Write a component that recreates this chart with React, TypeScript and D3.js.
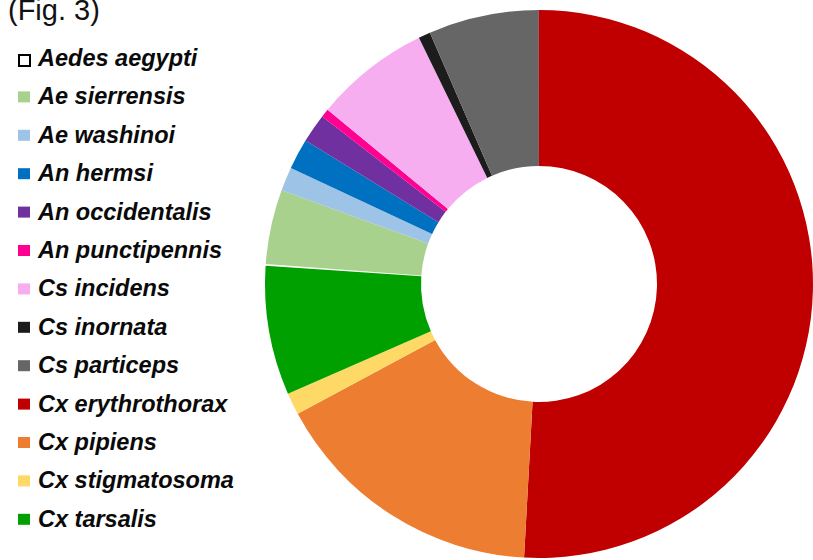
import { arc, pie, PieArcDatum } from 'd3';
import React from 'react';

const species = [
  'Aedes aegypti',
  'Ae sierrensis',
  'Ae washinoi',
  'An hermsi',
  'An occidentalis',
  'An punctipennis',
  'Cs incidens',
  'Cs inornata',
  'Cs particeps',
  'Cx erythrothorax',
  'Cx pipiens',
  'Cx stigmatosoma',
  'Cx tarsalis',
];

// share of collection, percent
const shares = [0.1, 4.4, 1.4, 1.8, 1.7, 0.5, 6.8, 0.7, 6.5, 50.8, 16.25, 1.3, 7.6];

const colors = [
  '#ffffff',
  '#a9d18e',
  '#9dc3e6',
  '#0070c0',
  '#7030a0',
  '#ff0090',
  '#f6aef0',
  '#1c1c1c',
  '#666666',
  '#c00000',
  '#ed7d31',
  '#ffd966',
  '#00a000',
];

const W = 813;
const H = 560;
const CX = 539;
const CY = 284;
const R_OUT = 274;
const R_IN = 118;
const FIRST_ANGLE = 273.8; // degrees, where the first slice begins

type Slice = { name: string; value: number; color: string };

const slices: Slice[] = species.map((name, i) => ({
  name,
  value: shares[i],
  color: colors[i],
}));

export default function App() {
  const start = ((FIRST_ANGLE - 360) * Math.PI) / 180;
  const arcs = pie<Slice>()
    .value(d => d.value)
    .sort(null)
    .startAngle(start)
    .endAngle(start + 2 * Math.PI)(slices);

  const arcGen = arc<PieArcDatum<Slice>>().innerRadius(R_IN).outerRadius(R_OUT);

  const rowTop = 66;
  const rowStep = 38.4;

  return (
    <svg
      width={W}
      height={H}
      style={{ position: 'absolute', left: 0, top: 0, background: '#fff' }}
      fontFamily="'Liberation Sans', Arial, sans-serif"
    >
      <text x={8} y={20} fontSize={29} fill="#111">
        (Fig. 3)
      </text>

      <g transform={`translate(${CX},${CY})`}>
        {arcs.map(a => (
          <path key={a.data.name} d={arcGen(a) ?? ''} fill={a.data.color} />
        ))}
      </g>

      <g>
        {slices.map((s, i) => {
          const y = rowTop + i * rowStep;
          const hollow = s.color === '#ffffff';
          return (
            <g key={s.name}>
              {hollow ? (
                <rect
                  x={19}
                  y={y - 11}
                  width={11}
                  height={11}
                  fill="#fff"
                  stroke="#000"
                  strokeWidth={2}
                />
              ) : (
                <rect x={18} y={y - 13} width={12} height={11} fill={s.color} />
              )}
              <text
                x={38}
                y={y}
                fontSize={23.5}
                fontWeight="bold"
                fontStyle="italic"
                fill="#0a0a0a"
              >
                {s.name}
              </text>
            </g>
          );
        })}
      </g>
    </svg>
  );
}
